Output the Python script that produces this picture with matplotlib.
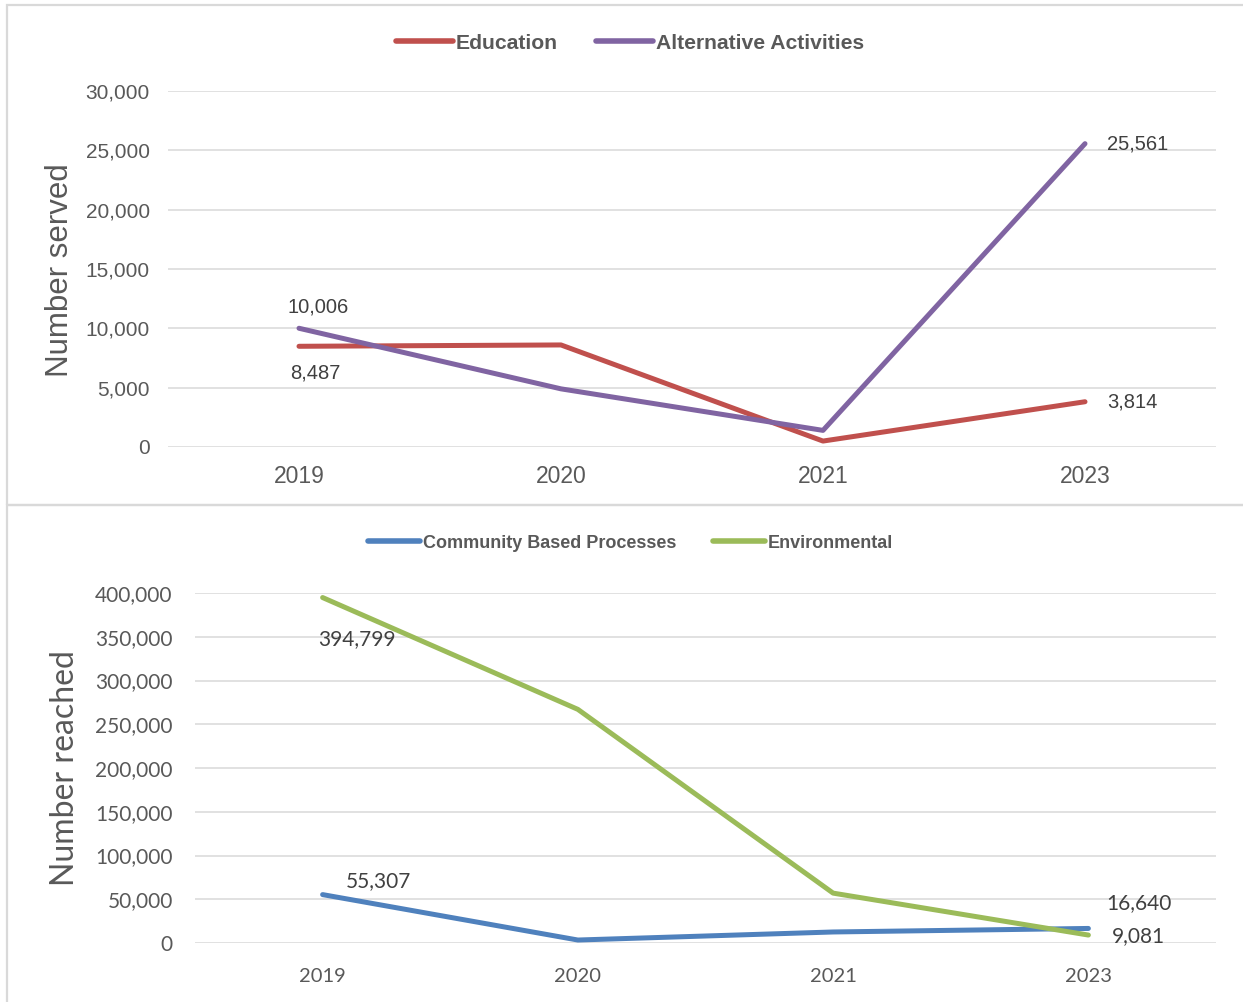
import matplotlib
matplotlib.use("Agg")
import matplotlib.pyplot as plt
from matplotlib.patches import Rectangle

years = ["2019", "2020", "2021", "2023"]

education = [8487, 8600, 500, 3814]
alternative = [10006, 4900, 1400, 25561]

community = [55307, 3400, 12600, 16640]
environmental = [394799, 267000, 57000, 9081]

# which points get a value label, and where (offset in points, alignment)
top_labels = [
    (alternative, 0, "10,006", (14, 15), "center"),
    (education, 0, "8,487", (12, -19), "center"),
    (alternative, 3, "25,561", (16, 0), "left"),
    (education, 3, "3,814", (16, 0), "left"),
]
bottom_labels = [
    (environmental, 0, "394,799", (25, -30), "center"),
    (community, 0, "55,307", (17, 10), "left"),
    (community, 3, "16,640", (13, 18), "left"),
    (environmental, 3, "9,081", (17, -1), "left"),
]

GRID = "#d9d9d9"
TXT = "#595959"
LBL = "#404040"
W, H = 1243, 1002

fig = plt.figure(figsize=(W / 100, H / 100), dpi=100)

# chart frames
for y0, y1 in [(5, 505), (505, 1010)]:
    fig.patches.append(Rectangle((7 / W, 1 - y1 / H), (W + 10 - 7) / W, (y1 - y0) / H,
                                 transform=fig.transFigure, fill=False,
                                 edgecolor=GRID, linewidth=1.6, zorder=0))


def style_axes(ax, font, xsize, ysize, ypad, xpad):
    for s in ax.spines.values():
        s.set_visible(False)
    ax.grid(axis="y", color=GRID, linewidth=1.1)
    ax.set_axisbelow(True)
    ax.tick_params(length=0)
    ax.tick_params(axis="y", pad=ypad, labelsize=ysize, labelcolor=TXT)
    ax.tick_params(axis="x", pad=xpad, labelsize=xsize, labelcolor=TXT)
    for t in ax.get_xticklabels() + ax.get_yticklabels():
        t.set_fontfamily(font)
    ax.set_xlim(-0.5, len(years) - 0.5)
    ax.yaxis.set_major_formatter(matplotlib.ticker.FuncFormatter(lambda v, p: f"{int(v):,}"))


# ---- top chart
ax1 = fig.add_axes([168 / W, 1 - 447 / H, 1048 / W, 356 / H])
x = range(len(years))
ax1.plot(x, education, color="#C0504D", lw=3.6, solid_capstyle="round", label="Education")
ax1.plot(x, alternative, color="#8064A2", lw=3.6, solid_capstyle="round", label="Alternative Activities")
ax1.set_ylim(0, 30000)
ax1.set_yticks(range(0, 30001, 5000))
ax1.set_xticks(list(x))
ax1.set_xticklabels(years)
style_axes(ax1, "Liberation Sans", 16.5, 15, 13, 13)
for series, i, txt, off, ha in top_labels:
    ax1.annotate(txt, (i, series[i]), xytext=off, textcoords="offset points",
                 ha=ha, va="center", fontsize=14.5, color=LBL, family="Liberation Sans")
leg1 = ax1.legend(loc="center", bbox_to_anchor=(0.5 + (630 - 692) / 1048, (447 - 43) / 356),
                  ncol=2, frameon=False, handlelength=2.7, handletextpad=0.15,
                  columnspacing=1.8, prop={"family": "Liberation Sans",
                                           "weight": "bold", "size": 15.2})
for t in leg1.get_texts():
    t.set_color(TXT)
for l in leg1.get_lines():
    l.set_linewidth(4)
fig.text(60 / W, 1 - 270 / H, "Number served", rotation=90, ha="center", va="center",
         fontsize=22.5, color=TXT, family="Liberation Sans")

# ---- bottom chart
ax2 = fig.add_axes([195 / W, 1 - 943 / H, 1021 / W, 350 / H])
ax2.plot(x, community, color="#4F81BD", lw=3.6, solid_capstyle="round", label="Community Based Processes")
ax2.plot(x, environmental, color="#9BBB59", lw=3.6, solid_capstyle="round", label="Environmental")
ax2.set_ylim(0, 400000)
ax2.set_yticks(range(0, 400001, 50000))
ax2.set_xticks(list(x))
ax2.set_xticklabels(years)
style_axes(ax2, "Lato", 14.5, 15, 16, 18)
for series, i, txt, off, ha in bottom_labels:
    ax2.annotate(txt, (i, series[i]), xytext=off, textcoords="offset points",
                 ha=ha, va="center", fontsize=15, color=LBL, family="Lato")
leg2 = ax2.legend(loc="center", bbox_to_anchor=(0.5 + (630 - 705) / 1021, (943 - 543) / 350),
                  ncol=2, frameon=False, handlelength=2.9, handletextpad=0.15,
                  columnspacing=2.0, prop={"family": "Liberation Sans",
                                           "weight": "bold", "size": 13})
for t in leg2.get_texts():
    t.set_color(TXT)
for l in leg2.get_lines():
    l.set_linewidth(4)
fig.text(65 / W, 1 - 768 / H, "Number reached", rotation=90, ha="center", va="center",
         fontsize=23, color=TXT, family="Lato")

fig.savefig("out.png", dpi=100, facecolor="white")
